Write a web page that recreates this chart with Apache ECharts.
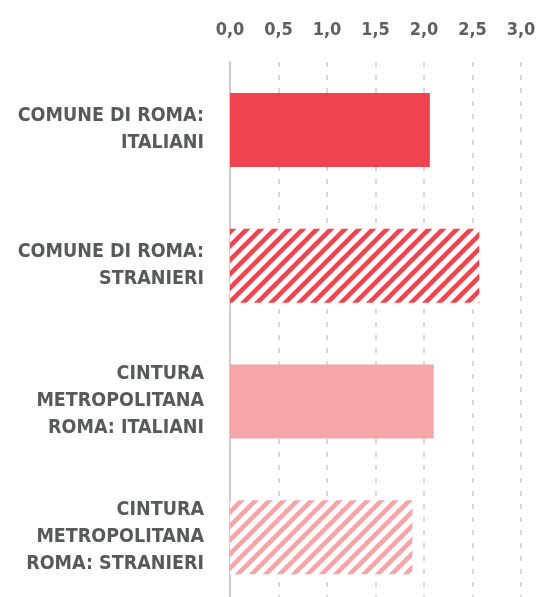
<!DOCTYPE html>
<html>
<head>
<meta charset="utf-8">
<script src="https://cdn.jsdelivr.net/npm/echarts@6/dist/echarts.min.js"></script>
<style>
  html, body { margin: 0; padding: 0; background: #fff; }
  #chart { width: 537px; height: 597px; }
</style>
</head>
<body>
<div id="chart"></div>
<script>
// dati
var categories = [
    'COMUNE DI ROMA:\nITALIANI',
    'COMUNE DI ROMA:\nSTRANIERI',
    'CINTURA\nMETROPOLITANA\nROMA: ITALIANI',
    'CINTURA\nMETROPOLITANA\nROMA: STRANIERI'
];
var values = [2.06, 2.57, 2.10, 1.88];
var xTicks = [0, 0.5, 1, 1.5, 2, 2.5, 3];

var FONT = "'DejaVu Sans Condensed', 'Liberation Sans Narrow', Roboto, sans-serif";

// pattern a righe diagonali
function stripes(color) {
    var p = 14;
    var c = document.createElement('canvas');
    c.width = p;
    c.height = p;
    var ctx = c.getContext('2d');
    ctx.fillStyle = '#fff';
    ctx.fillRect(0, 0, p, p);
    ctx.strokeStyle = color;
    ctx.lineWidth = 4.5;
    ctx.beginPath();
    ctx.moveTo(-2, 2); ctx.lineTo(2, -2);
    ctx.moveTo(0, p); ctx.lineTo(p, 0);
    ctx.moveTo(p - 2, p + 2); ctx.lineTo(p + 2, p - 2);
    ctx.stroke();
    return { image: c, repeat: 'repeat' };
}

var colors = ['#ef434f', stripes('#ef434f'), '#f5a4a8', stripes('#f5a4a8')];

var myChart = echarts.init(document.getElementById('chart'));
var option = {
    animation: false,
    grid: {
        left: 230,
        right: 16,
        top: 62,
        bottom: -8,
        outerBoundsMode: 'none'
    },
    xAxis: {
        type: 'value',
        position: 'top',
        min: xTicks[0],
        max: xTicks[xTicks.length - 1],
        interval: 0.5,
        axisLine: { show: false },
        axisTick: { show: false },
        axisLabel: {
            margin: 23,
            color: '#5e5f62',
            fontFamily: FONT,
            fontWeight: 'bold',
            fontSize: 18,
            formatter: function (v) {
                return v.toFixed(1).replace('.', ',');
            }
        },
        splitLine: {
            lineStyle: { color: '#cccccc', width: 1.5, type: [5, 8] }
        }
    },
    yAxis: {
        type: 'category',
        inverse: true,
        data: categories,
        axisLine: { show: true, lineStyle: { color: '#cccccc', width: 2 } },
        axisTick: { show: false },
        axisLabel: {
            margin: 26,
            align: 'right',
            color: '#58595b',
            fontFamily: FONT,
            fontWeight: 'bold',
            fontSize: 19.5,
            lineHeight: 27
        }
    },
    series: [{
        type: 'bar',
        barWidth: 74,
        data: values.map(function (v, i) {
            return { value: v, itemStyle: { color: colors[i] } };
        })
    }]
};
myChart.setOption(option);
</script>
</body>
</html>
